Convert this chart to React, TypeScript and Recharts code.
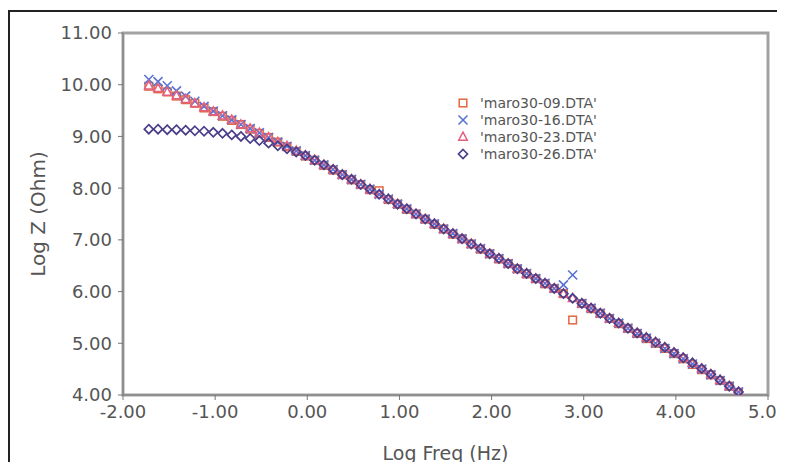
import { ScatterChart, Scatter, XAxis, YAxis, ReferenceArea, Legend } from "recharts";

const logFreq = [
  -1.72, -1.62, -1.52, -1.42, -1.32, -1.22, -1.12, -1.02, -0.92, -0.82,
  -0.72, -0.62, -0.52, -0.42, -0.32, -0.22, -0.12, -0.02, 0.08, 0.18,
  0.28, 0.38, 0.48, 0.58, 0.68, 0.78, 0.88, 0.98, 1.08, 1.18,
  1.28, 1.38, 1.48, 1.58, 1.68, 1.78, 1.88, 1.98, 2.08, 2.18,
  2.28, 2.38, 2.48, 2.58, 2.68, 2.78, 2.88, 2.98, 3.08, 3.18,
  3.28, 3.38, 3.48, 3.58, 3.68, 3.78, 3.88, 3.98, 4.08, 4.18,
  4.28, 4.38, 4.48, 4.58, 4.68,
];

const maro09 = [
  9.97, 9.92, 9.86, 9.78, 9.71, 9.64, 9.55, 9.48, 9.39, 9.31,
  9.23, 9.14, 9.06, 8.98, 8.89, 8.8, 8.71, 8.62, 8.54, 8.44,
  8.35, 8.26, 8.16, 8.07, 7.97, 7.95, 7.78, 7.69, 7.59, 7.5,
  7.4, 7.3, 7.21, 7.11, 7.02, 6.92, 6.82, 6.73, 6.63, 6.54,
  6.44, 6.34, 6.25, 6.15, 6.06, 5.96, 5.45, 5.77, 5.67, 5.58,
  5.48, 5.38, 5.29, 5.19, 5.09, 5.0, 4.9, 4.8, 4.7, 4.59,
  4.49, 4.39, 4.28, 4.17, 4.05,
];

const maro16 = [
  10.1, 10.06, 9.98, 9.88, 9.78, 9.68, 9.58, 9.49, 9.4, 9.32,
  9.23, 9.15, 9.07, 8.98, 8.89, 8.81, 8.72, 8.63, 8.54, 8.45,
  8.36, 8.26, 8.17, 8.07, 7.98, 7.88, 7.79, 7.69, 7.6, 7.5,
  7.4, 7.31, 7.21, 7.12, 7.02, 6.92, 6.83, 6.73, 6.64, 6.54,
  6.44, 6.35, 6.25, 6.16, 6.06, 6.13, 6.32, 5.77, 5.68, 5.58,
  5.48, 5.39, 5.29, 5.19, 5.1, 5.0, 4.9, 4.8, 4.7, 4.6,
  4.5, 4.39, 4.28, 4.17, 4.06,
];

const maro23 = [
  9.98, 9.93, 9.86, 9.79, 9.72, 9.64, 9.56, 9.48, 9.4, 9.32,
  9.23, 9.15, 9.07, 8.98, 8.89, 8.81, 8.72, 8.63, 8.54, 8.45,
  8.36, 8.26, 8.17, 8.07, 7.98, 7.88, 7.79, 7.69, 7.6, 7.5,
  7.4, 7.31, 7.21, 7.12, 7.02, 6.92, 6.83, 6.73, 6.64, 6.54,
  6.44, 6.35, 6.25, 6.16, 6.06, 5.96, 5.87, 5.77, 5.68, 5.58,
  5.48, 5.39, 5.29, 5.2, 5.11, 5.02, 4.92, 4.82, 4.72, 4.62,
  4.51, 4.4, 4.29, 4.17, 4.06,
];

const maro26 = [
  9.14, 9.14, 9.13, 9.13, 9.12, 9.11, 9.1, 9.08, 9.06, 9.03,
  9.0, 8.96, 8.92, 8.87, 8.82, 8.76, 8.7, 8.63, 8.54, 8.45,
  8.36, 8.26, 8.17, 8.07, 7.98, 7.88, 7.79, 7.69, 7.6, 7.5,
  7.4, 7.31, 7.21, 7.12, 7.02, 6.92, 6.83, 6.73, 6.64, 6.54,
  6.44, 6.35, 6.25, 6.16, 6.06, 5.96, 5.87, 5.77, 5.68, 5.58,
  5.48, 5.39, 5.29, 5.2, 5.11, 5.02, 4.92, 4.82, 4.72, 4.62,
  4.51, 4.4, 4.29, 4.17, 4.06,
];

const seriesNames = ["'maro30-09.DTA'", "'maro30-16.DTA'", "'maro30-23.DTA'", "'maro30-26.DTA'"];
const xTicks = [-2, -1, 0, 1, 2, 3, 4, 5];
const yTicks = [4, 5, 6, 7, 8, 9, 10, 11];

const font = "'DejaVu Sans', Arial, sans-serif";
const textGray = "#555";
const axisGray = "#8f8f8f";

const toPoints = (ys: number[]) => logFreq.map((x, i) => ({ x, y: ys[i] }));

const colors = ["#e2683e", "#5b72d2", "#e4607e", "#4a3d8a"];

const Marker = ({ kind, cx, cy }: { kind: number; cx: number; cy: number }) => {
  const c = colors[kind];
  if (kind === 0)
    return <rect x={cx - 3.8} y={cy - 3.8} width={7.6} height={7.6} fill="none" stroke={c} strokeWidth={1.5} />;
  if (kind === 1)
    return (
      <g stroke={c} strokeWidth={1.6}>
        <line x1={cx - 4.5} y1={cy - 4.5} x2={cx + 4.5} y2={cy + 4.5} />
        <line x1={cx - 4.5} y1={cy + 4.5} x2={cx + 4.5} y2={cy - 4.5} />
      </g>
    );
  if (kind === 2)
    return (
      <polygon
        points={`${cx},${cy - 4.8} ${cx + 4.3},${cy + 3.2} ${cx - 4.3},${cy + 3.2}`}
        fill="none"
        stroke={c}
        strokeWidth={1.5}
      />
    );
  return (
    <polygon
      points={`${cx},${cy - 4.5} ${cx + 4.5},${cy} ${cx},${cy + 4.5} ${cx - 4.5},${cy}`}
      fill="none"
      stroke={c}
      strokeWidth={1.7}
    />
  );
};

const LegendBox = () => (
  <div style={{ fontFamily: font, fontSize: 14, color: textGray }}>
    {seriesNames.map((name, i) => (
      <div key={name} style={{ display: "flex", alignItems: "center", height: 17 }}>
        <svg width={14} height={14} style={{ marginRight: 10 }}>
          <Marker kind={i} cx={7} cy={7} />
        </svg>
        <span>{name}</span>
      </div>
    ))}
  </div>
);

const tickStyle = { fill: textGray, fontSize: 18, fontFamily: font };

export default function App() {
  const allSeries = [maro09, maro16, maro23, maro26];
  return (
    <div
      style={{
        position: "relative",
        top: 2,
        width: 777,
        height: 454,
        borderLeft: "2px solid #222",
        borderTop: "2px solid #222",
        boxSizing: "border-box",
        background: "#fff",
      }}
    >
      <ScatterChart width={775} height={458} margin={{ top: 21, right: 17, left: 0, bottom: 0 }}>
        <XAxis
          dataKey="x"
          type="number"
          domain={[-2, 5]}
          ticks={xTicks}
          tickFormatter={(v: number) => v.toFixed(2)}
          tick={tickStyle}
          tickSize={5}
          tickMargin={5}
          axisLine={{ stroke: axisGray, strokeWidth: 2 }}
          tickLine={{ stroke: "#777" }}
          height={75}
          allowDataOverflow
          label={{ value: "Log Freq (Hz)", position: "insideBottom", offset: 10, fill: textGray, fontSize: 19, fontFamily: font }}
        />
        <YAxis
          dataKey="y"
          type="number"
          domain={[4, 11]}
          ticks={yTicks}
          tickFormatter={(v: number) => v.toFixed(2)}
          tick={tickStyle}
          tickSize={5}
          tickMargin={6}
          axisLine={{ stroke: axisGray, strokeWidth: 2 }}
          tickLine={{ stroke: "#777" }}
          width={113}
          allowDataOverflow
          label={{
            value: "Log Z (Ohm)",
            angle: -90,
            position: "insideLeft",
            offset: 28,
            fill: textGray,
            fontSize: 20,
            fontFamily: font,
            style: { textAnchor: "middle" },
          }}
        />
        <ReferenceArea x1={-2} x2={5} y1={4} y2={11} fill="none" stroke="#a2a2a2" strokeWidth={3} />
        {allSeries.map((ys, i) => (
          <Scatter
            key={seriesNames[i]}
            name={seriesNames[i]}
            data={toPoints(ys)}
            isAnimationActive={false}
            shape={(p: any) => <Marker kind={i} cx={p.cx} cy={p.cy} />}
          />
        ))}
        <Legend
          layout="horizontal"
          verticalAlign="middle"
          align="center"
          content={() => <LegendBox />}
          wrapperStyle={{ position: "absolute", left: 446, top: 82, width: 200 }}
        />
      </ScatterChart>
    </div>
  );
}
